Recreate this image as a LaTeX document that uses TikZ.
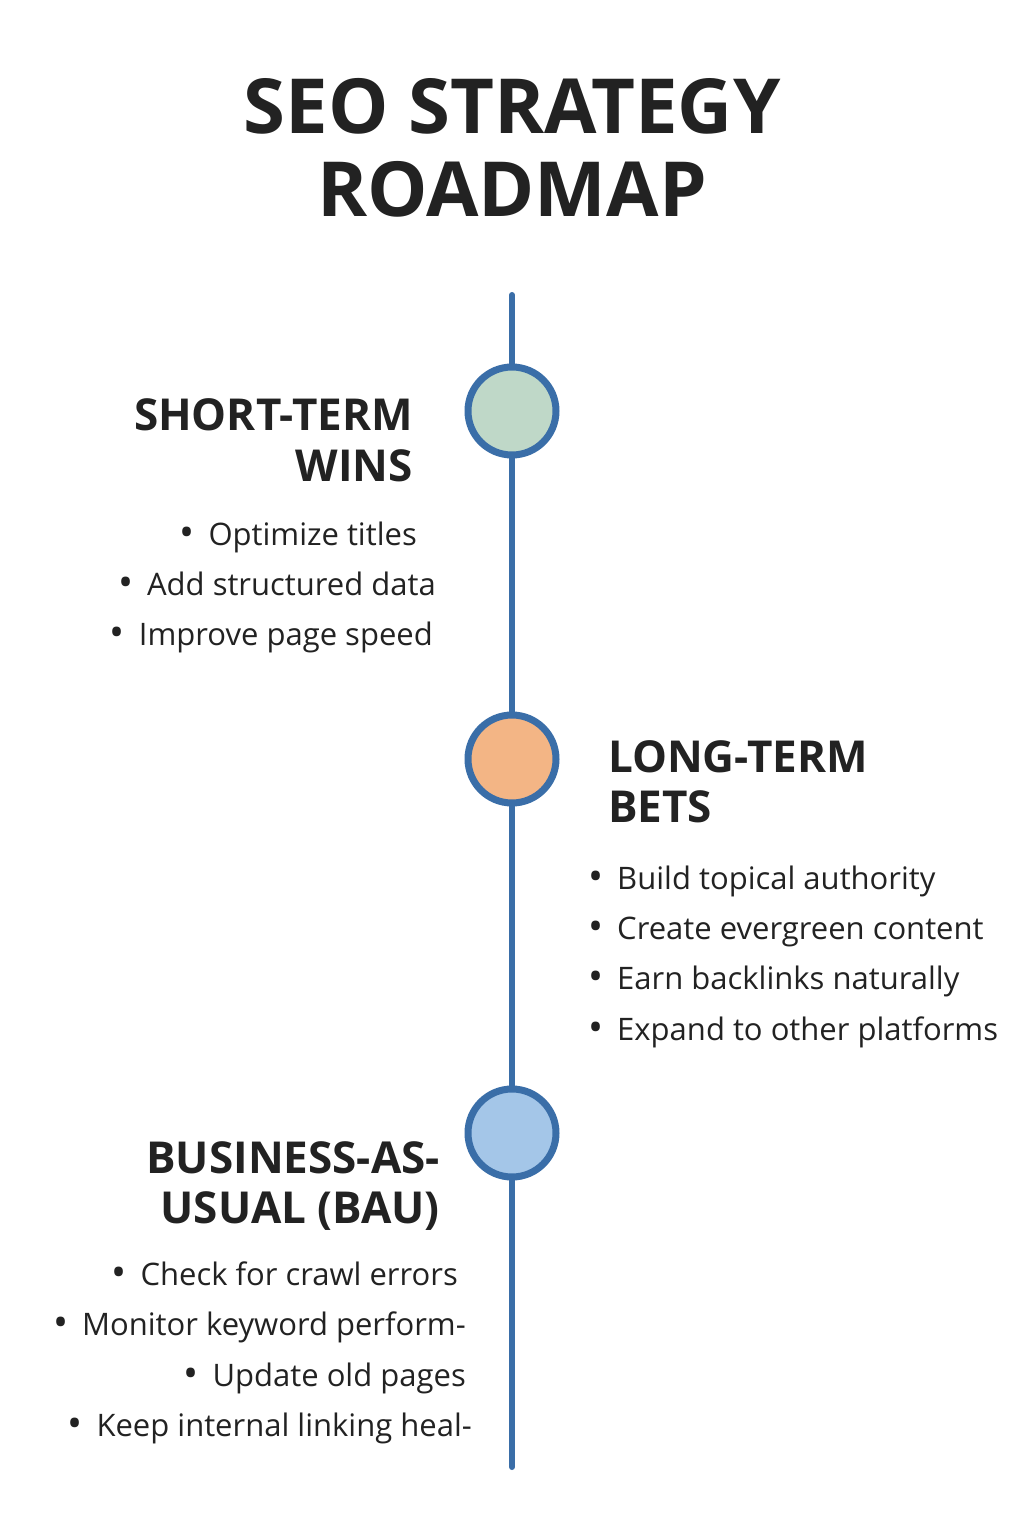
\documentclass[tikz,border=0pt]{standalone}
\usepackage{fontspec}
\setmainfont{Open Sans}
\usetikzlibrary{positioning}
\definecolor{lineblue}{HTML}{3A6EA8}
\definecolor{shortfill}{HTML}{BFD8C8}
\definecolor{longfill}{HTML}{F3B585}
\definecolor{baufill}{HTML}{A4C6E8}
\definecolor{ink}{HTML}{222222}
\tikzset{
  heading/.style={font=\fontsize{44}{50}\selectfont\bfseries, text=ink, inner sep=0pt},
  item/.style={font=\fontsize{31}{34}\selectfont, text=ink, inner sep=0pt},
  ring/.style={circle, draw=lineblue, line width=7pt, minimum size=88pt, inner sep=0pt},
}
\newcommand{\bul}{{\fontsize{40}{40}\selectfont\raisebox{-1pt}{\textbullet}}\hspace{14pt}}

\begin{document}
\begin{tikzpicture}[x=1pt,y=-1pt]
    \useasboundingbox (0,0) rectangle (1024,1536);
    \fill[white] (0,0) rectangle (1024,1536);
    % title
    \node[heading,font=\fontsize{76}{80}\selectfont\bfseries] (t1) at (512,133) [anchor=base] {SEO STRATEGY};
    \node[heading,font=\fontsize{76}{80}\selectfont\bfseries] (t2) at (512,216) [anchor=base] {ROADMAP};
    % timeline
    \coordinate (top) at (512,295);
    \coordinate (bot) at (512,1467);
    \draw[lineblue,line width=6pt,line cap=round] (top) -- (bot);
    \node[ring,fill=shortfill] (c1) at (512,411) {};
    \node[ring,fill=longfill] (c2) at (512,759) {};
    \node[ring,fill=baufill] (c3) at (512,1133) {};
    % short-term
    \node[heading,anchor=base east] (s1) at (413,430) {SHORT-TERM};
    \node[heading,anchor=base east] (s2) at (413,481) {WINS};
    \node[item,anchor=base east] (sa) at (417,545) {\bul Optimize titles};
    \node[item,anchor=base east] (sb) at (436,595) {\bul Add structured data};
    \node[item,anchor=base east] (sc) at (433,645) {\bul Improve page speed};
    % long-term
    \node[heading,anchor=base west] (l1) at (608,772) {LONG-TERM};
    \node[heading,anchor=base west] (l2) at (608,822) {BETS};
    \node[item,anchor=base west] (la) at (588,889) {\bul Build topical authority};
    \node[item,anchor=base west] (lb) at (588,939) {\bul Create evergreen content};
    \node[item,anchor=base west] (lc) at (588,989) {\bul Earn backlinks naturally};
    \node[item,anchor=base west] (ld) at (588,1040) {\bul Expand to other platforms};
    % business as usual
    \node[heading,anchor=base east] (b1) at (440,1173) {BUSINESS-AS-};
    \node[heading,anchor=base east] (b2) at (440,1223) {USUAL (BAU)};
    \node[item,anchor=base east] (ba) at (458,1285) {\bul Check for crawl errors};
    \node[item,anchor=base east] (bb) at (466,1335) {\bul Monitor keyword perform-};
    \node[item,anchor=base east] (bc) at (466,1386) {\bul Update old pages};
    \node[item,anchor=base east] (bd) at (472,1436) {\bul Keep internal linking heal-};
\end{tikzpicture}
\end{document}
